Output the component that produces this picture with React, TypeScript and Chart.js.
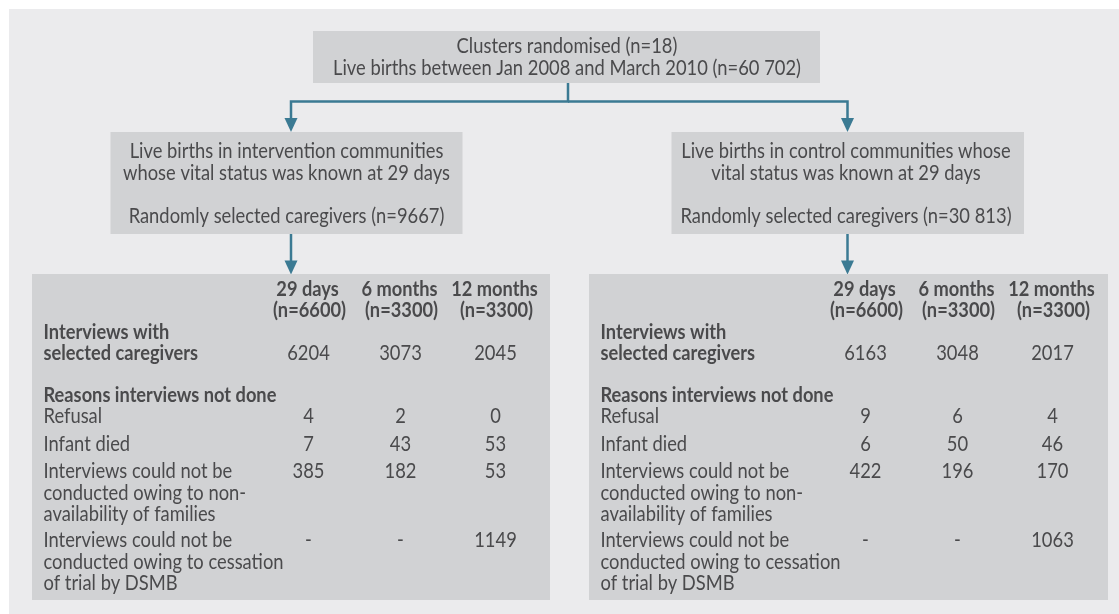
import React, { useEffect, useRef } from "react";
import { Chart, registerables } from "chart.js";

Chart.register(...registerables);

// ---------- DATA ----------
const topLines = [
  "Clusters randomised (n=18)",
  "Live births between Jan 2008 and March 2010 (n=60 702)",
];
const interventionLines = [
  "Live births in intervention communities",
  "whose vital status was known at 29 days",
  "",
  "Randomly selected caregivers (n=9667)",
];
const controlLines = [
  "Live births in control communities whose",
  "vital status was known at 29 days",
  "",
  "Randomly selected caregivers (n=30 813)",
];
const periodLabels = ["29 days", "6 months", "12 months"];
const periodNs = ["(n=6600)", "(n=3300)", "(n=3300)"];
const interviewsLabel = ["Interviews with", "selected caregivers"];
const reasonsHeader = "Reasons interviews not done";
const refusalLabel = ["Refusal"];
const diedLabel = ["Infant died"];
const unavailableLabel = ["Interviews could not be", "conducted owing to non-", "availability of families"];
const cessationLabel = ["Interviews could not be", "conducted owing to cessation", "of trial by DSMB"];

const interventionInterviews = [6204, 3073, 2045];
const interventionRefusal = [4, 2, 0];
const interventionDied = [7, 43, 53];
const interventionUnavailable = [385, 182, 53];
const interventionCessation: (number | null)[] = [null, null, 1149];

const controlInterviews = [6163, 3048, 2017];
const controlRefusal = [9, 6, 4];
const controlDied = [6, 50, 46];
const controlUnavailable = [422, 196, 170];
const controlCessation: (number | null)[] = [null, null, 1063];

// ---------- LAYOUT / STYLE ----------
const W = 1119;
const H = 614;
const BG = "#ebebed";
const BOX = "#d1d2d4";
const TEXT = "#4a4a4c";
const ARROW = "#3b7a93";
const FAMILY = "Lato, 'Open Sans', sans-serif";
const STRETCH = 1.1; // taller, narrower glyphs

const flowchartPlugin = {
  id: "flowchart",
  beforeDatasetsDraw(chart: any) {
    const ctx: CanvasRenderingContext2D = chart.ctx;
    const xs = chart.scales.x;
    const ys = chart.scales.y;
    const X = (v: number) => xs.getPixelForValue(v);
    const Y = (v: number) => ys.getPixelForValue(v);

    ctx.save();
    ctx.font = `400 20px ${FAMILY}`;
    const regW = ctx.measureText("Live births in intervention communities").width;
    const reg = ((20 * 314) / regW) * STRETCH;
    ctx.font = `700 20px ${FAMILY}`;
    const boldW = ctx.measureText("Reasons interviews not done").width;
    const bold = ((20 * 233) / boldW) * STRETCH;
    ctx.restore();
    const regFont = `400 ${reg}px ${FAMILY}`;
    const boldFont = `700 ${bold}px ${FAMILY}`;

    const rect = (x0: number, y0: number, x1: number, y1: number, c: string) => {
      ctx.fillStyle = c;
      ctx.fillRect(X(x0), Y(y0), X(x1) - X(x0), Y(y1) - Y(y0));
    };
    const text = (s: string, x: number, y: number, align: CanvasTextAlign, font: string) => {
      ctx.save();
      ctx.font = font;
      ctx.fillStyle = TEXT;
      ctx.textAlign = align;
      ctx.textBaseline = "middle";
      ctx.translate(X(x), Y(y));
      ctx.scale(1 / STRETCH, 1);
      ctx.fillText(s, 0, 0);
      ctx.restore();
    };
    const arrowHead = (x: number, tipY: number) => {
      ctx.fillStyle = ARROW;
      ctx.beginPath();
      ctx.moveTo(X(x), Y(tipY));
      ctx.lineTo(X(x - 6.5), Y(tipY - 14));
      ctx.lineTo(X(x + 6.5), Y(tipY - 14));
      ctx.closePath();
      ctx.fill();
    };
    const path = (pts: number[][]) => {
      ctx.strokeStyle = ARROW;
      ctx.lineWidth = 2.5;
      ctx.lineJoin = "miter";
      ctx.beginPath();
      pts.forEach(([a, b], i) => (i === 0 ? ctx.moveTo(X(a), Y(b)) : ctx.lineTo(X(a), Y(b))));
      ctx.stroke();
    };

    // background
    ctx.fillStyle = "#ffffff";
    ctx.fillRect(0, 0, chart.width, chart.height);
    rect(9, 9, W, H, BG);

    // top box
    rect(313, 31, 820, 83, BOX);
    text(topLines[0], 567, 46.5, "center", regFont);
    text(topLines[1], 567, 68.5, "center", regFont);

    // connectors
    const lx = 291;
    const rx = 847.5;
    path([[568, 83], [568, 101.5], [lx, 101.5], [lx, 120]]);
    path([[568, 101.5], [rx, 101.5], [rx, 120]]);
    arrowHead(lx, 132);
    arrowHead(rx, 132);

    // second-level boxes
    const lineY = [151, 173.3, 195.5, 216];
    rect(110.5, 132, 462.5, 234, BOX);
    interventionLines.forEach((s, i) => s && text(s, 286.5, lineY[i], "center", regFont));
    rect(671.5, 132, 1024, 234, BOX);
    controlLines.forEach((s, i) => s && text(s, 846, lineY[i], "center", regFont));

    path([[lx, 234], [lx, 262]]);
    path([[rx, 234], [rx, 262]]);
    arrowHead(lx, 274.5);
    arrowHead(rx, 274.5);

    // tables
    const drawTable = (
      x0: number,
      x1: number,
      interviews: number[],
      refusal: number[],
      died: number[],
      unavailable: number[],
      cessation: (number | null)[]
    ) => {
      rect(x0, 274, x1, 600, BOX);
      const lab = x0 + 11.5;
      const cols = [x0 + 276.5, x0 + 368.5, x0 + 463.5];
      periodLabels.forEach((s, i) => text(s, cols[i] - 1, 290, "center", boldFont));
      periodNs.forEach((s, i) => text(s, cols[i] + 1, 311, "center", boldFont));
      text(interviewsLabel[0], lab, 332.5, "left", boldFont);
      text(interviewsLabel[1], lab, 353.5, "left", boldFont);
      text(reasonsHeader, lab, 396, "left", boldFont);
      const rowText = (labels: string[], y0: number) => {
        labels.forEach((s, i) => text(s, lab, y0 + i * 21.3, "left", regFont));
      };
      rowText(refusalLabel, 416.8);
      rowText(diedLabel, 444.3);
      rowText(unavailableLabel, 471.7);
      rowText(cessationLabel, 540.7);
      const rowVals = (vals: (number | null)[], y: number) =>
        vals.forEach((v, i) => text(v === null ? "-" : String(v), cols[i], y, "center", regFont));
      rowVals(interviews, 353.5);
      rowVals(refusal, 416.8);
      rowVals(died, 444.3);
      rowVals(unavailable, 471.7);
      rowVals(cessation, 540.7);
    };
    drawTable(32, 550, interventionInterviews, interventionRefusal, interventionDied, interventionUnavailable, interventionCessation);
    drawTable(589, 1108, controlInterviews, controlRefusal, controlDied, controlUnavailable, controlCessation);
  },
};

export default function App() {
  const ref = useRef<HTMLCanvasElement | null>(null);
  useEffect(() => {
    if (!ref.current) return;
    const chart = new Chart(ref.current, {
      type: "scatter",
      data: { datasets: [{ data: [], pointRadius: 0 }] },
      options: {
        animation: false,
        responsive: false,
        maintainAspectRatio: false,
        devicePixelRatio: 1,
        layout: { padding: 0 },
        plugins: { legend: { display: false }, tooltip: { enabled: false } },
        scales: {
          x: { type: "linear", min: 0, max: W, display: false },
          y: { type: "linear", min: 0, max: H, reverse: true, display: false },
        },
      },
      plugins: [flowchartPlugin],
    });
    return () => chart.destroy();
  }, []);
  return (
    <div style={{ position: "fixed", left: 0, top: 0, width: W, height: H, background: "#fff" }}>
      <canvas ref={ref} width={W} height={H} style={{ display: "block", width: W, height: H }} />
    </div>
  );
}
